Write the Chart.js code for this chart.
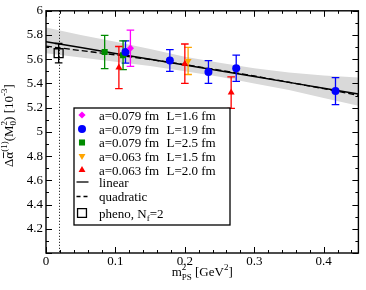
<!DOCTYPE html>
<html>
<head>
<meta charset="utf-8">
<script src="https://cdn.jsdelivr.net/npm/chart.js@4.4.1/dist/chart.umd.min.js"></script>
<style>
html, body { margin: 0; padding: 0; background: #fff; }
#wrap { width: 366px; height: 290px; }
</style>
</head>
<body>
<div id="wrap"><canvas id="chart" width="366" height="290"></canvas></div>
<script>
'use strict';

// m_PS^2 [GeV^2], value [10^-3], error
var a079L16X = [0.1216];
var a079L16Y = [5.691];
var a079L16E = [0.15];

var a079L19X = [0.1145, 0.1784, 0.234, 0.274, 0.417];
var a079L19Y = [5.66, 5.59, 5.494, 5.526, 5.337];
var a079L19E = [0.092, 0.09, 0.094, 0.108, 0.112];

var a079L25X = [0.0845, 0.111];
var a079L25Y = [5.66, 5.633];
var a079L25E = [0.137, 0.118];

var a063L15X = [0.2047];
var a063L15Y = [5.586];
var a063L15E = [0.112];

var a063L20X = [0.105, 0.2, 0.2667];
var a063L20Y = [5.531, 5.563, 5.325];
var a063L20E = [0.174, 0.163, 0.13];

var phenoX = [0.0182];
var phenoY = [5.65];
var phenoE = [0.08];

// fits
var fitX = [0, 0.05, 0.1, 0.15, 0.2, 0.25, 0.3, 0.35, 0.4, 0.45];
var linearY = [5.744, 5.696, 5.648, 5.600, 5.552, 5.505, 5.457, 5.409, 5.361, 5.313];
var quadraticY = [5.708, 5.672, 5.636, 5.598, 5.556, 5.51, 5.462, 5.41, 5.357, 5.302];
var bandUpper = [5.863, 5.80, 5.745, 5.685, 5.62, 5.57, 5.525, 5.49, 5.465, 5.45];
var bandLower = [5.65, 5.615, 5.58, 5.545, 5.50, 5.455, 5.40, 5.345, 5.28, 5.215];

var physPoint = 0.0182;

var FONT = "'Liberation Serif', 'Times New Roman', serif";
var MAGENTA = 'rgb(255,0,255)';
var BLUE = 'rgb(0,0,255)';
var GREEN = 'rgb(0,139,0)';
var ORANGE = 'rgb(255,165,0)';
var RED = 'rgb(255,0,0)';

function pts(xs, ys) {
    return xs.map(function (x, i) { return {x: x, y: ys[i]}; });
}

var markerSets = [
    {label: 'a=0.079 fm', L: 'L=1.6 fm', x: a079L16X, y: a079L16Y, e: a079L16E, color: MAGENTA, style: 'rectRot', r: 3.6, rot: 0},
    {label: 'a=0.079 fm', L: 'L=1.9 fm', x: a079L19X, y: a079L19Y, e: a079L19E, color: BLUE, style: 'circle', r: 4, rot: 0},
    {label: 'a=0.079 fm', L: 'L=2.5 fm', x: a079L25X, y: a079L25Y, e: a079L25E, color: GREEN, style: 'rect', r: 4.3, rot: 0},
    {label: 'a=0.063 fm', L: 'L=1.5 fm', x: a063L15X, y: a063L15Y, e: a063L15E, color: ORANGE, style: 'triangle', r: 4, rot: 180},
    {label: 'a=0.063 fm', L: 'L=2.0 fm', x: a063L20X, y: a063L20Y, e: a063L20E, color: RED, style: 'triangle', r: 4, rot: 0}
];

var datasets = [
    {data: pts(fitX, bandUpper), showLine: true, borderWidth: 0, borderColor: 'rgba(0,0,0,0)', pointRadius: 0, fill: '+1', backgroundColor: 'rgb(217,217,217)', order: 30},
    {data: pts(fitX, bandLower), showLine: true, borderWidth: 0, borderColor: 'rgba(0,0,0,0)', pointRadius: 0, fill: false, order: 30},
    {data: pts(fitX, quadraticY), showLine: true, borderColor: '#000', borderWidth: 1.3, borderDash: [6, 3], pointRadius: 0, fill: false, order: 20},
    {data: pts(fitX, linearY), showLine: true, borderColor: '#000', borderWidth: 1.5, pointRadius: 0, fill: false, order: 15, errHook: true}
];
markerSets.forEach(function (m) {
    datasets.push({
        data: pts(m.x, m.y), showLine: false, pointStyle: m.style, pointRadius: m.r,
        pointRotation: m.rot, pointBackgroundColor: m.color, pointBorderWidth: 0, order: 1
    });
});
datasets.push({
    data: pts(phenoX, phenoY), showLine: false, pointStyle: 'rect', pointRadius: 6.3,
    pointBackgroundColor: 'rgba(0,0,0,0)', pointBorderColor: '#000', pointBorderWidth: 1.3, order: 1
});

function drawErrBars(chart) {
    var ctx = chart.ctx, xs = chart.scales.x, ys = chart.scales.y;
    var sets = markerSets.concat([{x: phenoX, y: phenoY, e: phenoE, color: '#000'}]);
    ctx.save();
    ctx.lineWidth = 1.3;
    sets.forEach(function (m) {
        ctx.strokeStyle = m.color;
        m.x.forEach(function (x, i) {
            var px = xs.getPixelForValue(x);
            var top = ys.getPixelForValue(m.y[i] + m.e[i]);
            var bot = ys.getPixelForValue(m.y[i] - m.e[i]);
            ctx.beginPath();
            ctx.moveTo(px, top); ctx.lineTo(px, bot);
            ctx.moveTo(px - 3.8, top); ctx.lineTo(px + 3.8, top);
            ctx.moveTo(px - 3.8, bot); ctx.lineTo(px + 3.8, bot);
            ctx.stroke();
        });
    });
    ctx.restore();
}

// rich text: parts drawn one after another, 'stack' parts share x with previous
function drawRich(ctx, parts, x, y, dry) {
    var cx = x, start = x, prevW = 0;
    parts.forEach(function (p) {
        ctx.font = p.size + 'px ' + FONT;
        var w = ctx.measureText(p.t).width;
        var px = p.stack ? start : cx;
        if (!p.stack) start = cx;
        if (!dry) {
            ctx.fillText(p.t, px, y + (p.dy || 0));
            if (p.over) {
                ctx.save();
                ctx.lineWidth = 0.9;
                ctx.beginPath();
                ctx.moveTo(px + 0.5, y + p.over);
                ctx.lineTo(px + w - 0.5, y + p.over);
                ctx.stroke();
                ctx.restore();
            }
        }
        cx = p.stack ? start + Math.max(prevW, w) : cx + w;
        prevW = w;
    });
    return cx - x;
}

var yTitle = [
    {t: 'Δ', size: 13}, {t: 'α', size: 13, over: -9.5}, {t: '(1)', size: 9, dy: -6},
    {t: '(M', size: 13}, {t: '0', size: 9, dy: 3}, {t: '2', size: 9, dy: -6, stack: true},
    {t: ') [10', size: 13}, {t: '-3', size: 9, dy: -6}, {t: ']', size: 13}
];
var xTitle = [
    {t: 'm', size: 13}, {t: 'PS', size: 9, dy: 4}, {t: '2', size: 9, dy: -6, stack: true},
    {t: ' [GeV', size: 13}, {t: '2', size: 9, dy: -6}, {t: ']', size: 13}
];
var phenoText = [{t: 'pheno, N', size: 13}, {t: 'f', size: 9, dy: 3}, {t: '=2', size: 13}];

var decor = {
    id: 'decor',
    afterDatasetDraw: function (chart, args) {
        if (chart.data.datasets[args.index].errHook) drawErrBars(chart);
    },
    afterDatasetsDraw: function (chart) {
        var ctx = chart.ctx, a = chart.chartArea, xs = chart.scales.x;
        var px = Math.round(xs.getPixelForValue(physPoint)) + 0.5;
        ctx.save();
        ctx.strokeStyle = '#000';
        ctx.lineWidth = 1;
        ctx.setLineDash([1, 2]);
        ctx.beginPath();
        ctx.moveTo(px, a.top); ctx.lineTo(px, a.bottom);
        ctx.stroke();
        ctx.restore();
    },
    afterDraw: function (chart) {
        var ctx = chart.ctx, a = chart.chartArea, xs = chart.scales.x, ys = chart.scales.y;
        var i, v, p, len;
        ctx.save();
        ctx.strokeStyle = '#000';
        ctx.lineWidth = 1;
        ctx.beginPath();
        for (i = 0; i <= 22; i++) {
            v = i * 0.02;
            p = Math.round(xs.getPixelForValue(v)) + 0.5;
            len = i % 5 === 0 ? 6 : 3;
            ctx.moveTo(p, a.bottom); ctx.lineTo(p, a.bottom - len);
            ctx.moveTo(p, a.top); ctx.lineTo(p, a.top + len);
        }
        for (i = 0; i <= 20; i++) {
            v = 4 + i * 0.1;
            p = Math.round(ys.getPixelForValue(v)) + 0.5;
            len = i % 2 === 0 ? 6 : 3;
            ctx.moveTo(a.left, p); ctx.lineTo(a.left + len, p);
            ctx.moveTo(a.right, p); ctx.lineTo(a.right - len, p);
        }
        ctx.stroke();
        ctx.lineWidth = 1.4;
        ctx.strokeRect(a.left, a.top, a.right - a.left, a.bottom - a.top);

        // legend
        ctx.fillStyle = '#fff';
        ctx.fillRect(74, 108, 156, 117);
        ctx.lineWidth = 1.3;
        ctx.strokeRect(74, 108, 156, 117);
        ctx.fillStyle = '#000';
        ctx.textBaseline = 'alphabetic';
        var rows = [115, 129, 142.5, 156, 170];
        markerSets.forEach(function (m, k) {
            ctx.fillStyle = m.color;
            Chart.helpers.drawPoint(ctx, {pointStyle: m.style, radius: m.r, rotation: m.rot, borderWidth: 0}, 82, rows[k]);
            ctx.fillStyle = '#000';
            ctx.font = '13px ' + FONT;
            ctx.fillText(m.label, 99, rows[k] + 4.5);
            ctx.fillText(m.L, 166.5, rows[k] + 4.5);
        });
        ctx.beginPath();
        ctx.moveTo(76.5, 182); ctx.lineTo(88.5, 182);
        ctx.stroke();
        ctx.setLineDash([4, 3]);
        ctx.beginPath();
        ctx.moveTo(76.5, 196.5); ctx.lineTo(88.5, 196.5);
        ctx.stroke();
        ctx.setLineDash([]);
        ctx.font = '13px ' + FONT;
        ctx.fillText('linear', 99, 186.5);
        ctx.fillText('quadratic', 99, 201);
        ctx.fillStyle = 'rgba(0,0,0,0)';
        ctx.strokeStyle = '#000';
        Chart.helpers.drawPoint(ctx, {pointStyle: 'rect', radius: 6.3, rotation: 0, borderWidth: 1.3}, 82, 213);
        ctx.fillStyle = '#000';
        drawRich(ctx, phenoText, 99, 217.5);

        // axis titles
        var w = drawRich(ctx, xTitle, 0, 0, true);
        drawRich(ctx, xTitle, (a.left + a.right) / 2 - w / 2, 276);
        ctx.translate(13, 167);
        ctx.rotate(-Math.PI / 2);
        drawRich(ctx, yTitle, 0, 0);
        ctx.restore();
    }
};

function fmt(v) {
    return String(Math.round(v * 100) / 100);
}

new Chart(document.getElementById('chart').getContext('2d'), {
    type: 'scatter',
    data: {datasets: datasets},
    plugins: [decor],
    options: {
        responsive: false,
        animation: false,
        layout: {padding: {top: 7, right: 1, left: 0, bottom: 0}},
        plugins: {legend: {display: false}, tooltip: {enabled: false}},
        elements: {line: {tension: 0}},
        scales: {
            x: {
                type: 'linear', min: 0, max: 0.45,
                afterFit: function (s) { s.height = 37; },
                grid: {display: false, drawTicks: false},
                border: {display: false},
                ticks: {stepSize: 0.1, includeBounds: false, padding: 1, maxRotation: 0, color: '#000',
                    font: {family: FONT, size: 13}, callback: function (v) { return fmt(v); }}
            },
            y: {
                type: 'linear', min: 4, max: 6,
                afterFit: function (s) { s.width = 46; },
                grid: {display: false, drawTicks: false},
                border: {display: false},
                ticks: {stepSize: 0.2, padding: 3, color: '#000',
                    font: {family: FONT, size: 13},
                    callback: function (v) { return v < 4.01 ? '' : fmt(v); }}
            }
        }
    }
});
</script>
</body>
</html>
